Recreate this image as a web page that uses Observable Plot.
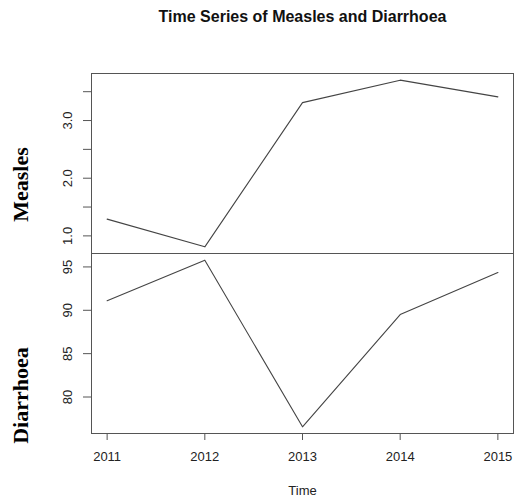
<!DOCTYPE html>
<html><head><meta charset="utf-8">
<script src="https://cdn.jsdelivr.net/npm/d3@7"></script>
<script src="https://cdn.jsdelivr.net/npm/@observablehq/plot@0.6"></script>
<style>
body{margin:0;background:#fff}
#chart{position:relative;width:514px;height:497px}
#chart svg{position:absolute;left:0}
</style>
</head><body><div id="chart"></div>
<script>
const years = [2011, 2012, 2013, 2014, 2015];
const measles = [1.29, 0.81, 3.31, 3.70, 3.41];
const diarrhoea = [91.1, 95.78, 76.56, 89.51, 94.35];
const measlesTicks = [1, 1.5, 2, 2.5, 3, 3.5];
const measlesLabels = [1, 2, 3];
const diarrhoeaTicks = [80, 85, 90, 95];
const yearTicks = [2011, 2012, 2013, 2014, 2015];
const title = "Time Series of Measles and Diarrhoea";

// R-style 4% range extension
const pad = arr => { const [a, b] = d3.extent(arr); const p = (b - a) * 0.04; return [a - p, b + p]; };
const xDom = pad(years);
const sans = "'Liberation Sans', Arial, Helvetica, sans-serif";
const serif = "'Liberation Serif', 'Times New Roman', serif";
const lineCol = "#444", frameCol = "#555", textCol = "#222";

const mData = years.map((t, i) => ({t, v: measles[i]}));
const dData = years.map((t, i) => ({t, v: diarrhoea[i]}));

const rotLabel = {frameAnchor: "left", rotate: -90, textAnchor: "middle", lineAnchor: "middle"};

const topPanel = Plot.plot({
  width: 514, height: 253,
  marginTop: 73, marginBottom: 0, marginLeft: 91, marginRight: 1,
  x: {domain: xDom, axis: null},
  y: {domain: pad(measles)},
  style: {background: "transparent", fontFamily: sans, color: textCol},
  marks: [
    Plot.frame({stroke: frameCol}),
    Plot.axisY({ticks: measlesTicks, tickSize: 8, tickFormat: () => "", label: null, stroke: frameCol}),
    Plot.text(measlesLabels, {...rotLabel, y: d => d, text: d => d.toFixed(1), dx: -24, fontSize: 13, fill: textCol}),
    Plot.line(mData, {x: "t", y: "v", stroke: lineCol, strokeWidth: 1.1}),
    Plot.text(["Measles"], {...rotLabel, dx: -71, dy: 21, fontSize: 22, fontWeight: "bold", fontFamily: serif, fill: "#000"}),
    Plot.text([title], {frameAnchor: "top", lineAnchor: "middle", dy: -57, fontSize: 16, fontWeight: "bold", fill: "#111"})
  ]
});
topPanel.style.top = "0px";

const bottomPanel = Plot.plot({
  width: 514, height: 244,
  marginTop: 0, marginBottom: 64, marginLeft: 91, marginRight: 1,
  x: {domain: xDom},
  y: {domain: pad(diarrhoea)},
  style: {background: "transparent", fontFamily: sans, color: textCol},
  marks: [
    Plot.frame({stroke: frameCol}),
    Plot.axisY({ticks: diarrhoeaTicks, tickSize: 8, tickFormat: () => "", label: null, stroke: frameCol}),
    Plot.text(diarrhoeaTicks, {...rotLabel, y: d => d, text: d => String(d), dx: -24, fontSize: 13, fill: textCol}),
    Plot.axisX({ticks: yearTicks, tickSize: 7, tickPadding: 11, tickFormat: d => String(d), label: null, fontSize: 13, stroke: frameCol}),
    Plot.line(dData, {x: "t", y: "v", stroke: lineCol, strokeWidth: 1.1}),
    Plot.text(["Diarrhoea"], {...rotLabel, dx: -71, dy: 52, fontSize: 22, fontWeight: "bold", fontFamily: serif, fill: "#000"}),
    Plot.text(["Time"], {frameAnchor: "bottom", lineAnchor: "middle", dy: 57, fontSize: 13, fill: textCol})
  ]
});
bottomPanel.style.top = "253px";

document.getElementById("chart").append(topPanel, bottomPanel);
</script>
</body></html>
